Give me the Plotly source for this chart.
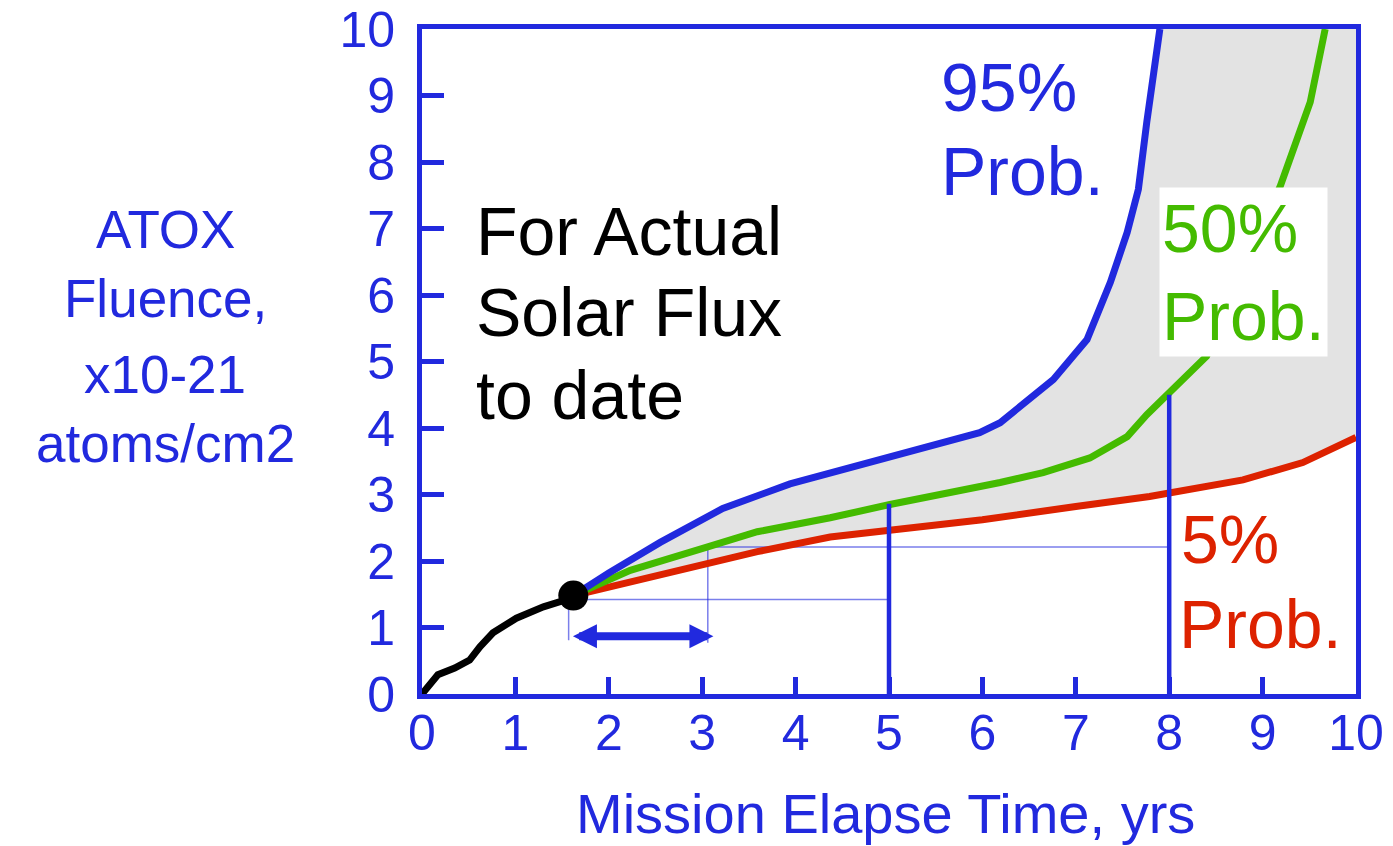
import plotly.graph_objects as go

# ATOX fluence vs mission time
actual_t = [0, 0.17, 0.35, 0.51, 0.62, 0.76, 1.01, 1.30, 1.55, 1.62]
actual_f = [0, 0.29, 0.39, 0.51, 0.71, 0.92, 1.14, 1.31, 1.42, 1.48]

p95_t = [1.62, 2.00, 2.55, 3.22, 3.94, 5.00, 5.97, 6.19, 6.51, 6.76, 7.12, 7.37, 7.55, 7.67, 7.76, 7.90]
p95_f = [1.48, 1.82, 2.28, 2.79, 3.16, 3.55, 3.93, 4.08, 4.43, 4.73, 5.33, 6.19, 6.94, 7.59, 8.60, 10.0]

p50_t = [1.62, 2.23, 3.05, 3.59, 4.37, 5.01, 6.19, 6.65, 7.15, 7.55, 7.76, 7.98, 8.40, 9.19, 9.51, 9.67]
p50_f = [1.48, 1.86, 2.21, 2.44, 2.65, 2.85, 3.18, 3.33, 3.55, 3.87, 4.20, 4.50, 5.08, 7.64, 8.90, 10.0]

p5_t = [1.62, 2.87, 3.59, 4.37, 5.33, 6.00, 7.00, 7.79, 8.79, 9.43, 10.0]
p5_f = [1.48, 1.91, 2.14, 2.36, 2.52, 2.62, 2.82, 2.97, 3.22, 3.48, 3.86]

now_t, now_f = 1.62, 1.48

# read-off guides
ref_years = [5, 8]
ref_tops = [2.86, 4.50]
guide_x = [1.57, 3.06]
guide_y = [1.42, 2.21]
guide_bottom = [0.81, 0.77]
arrow_y, arrow_from, arrow_to = 0.87, 1.60, 3.12

ticks = list(range(0, 11))
y_max = 10

BLUE = "#2129DE"
GREEN = "#44BB00"
RED = "#DD2200"
GRAY = "#E3E3E3"
THIN = "rgba(33,41,222,0.6)"
FONT = "Liberation Sans"

fig = go.Figure()

# shaded band: 5% curve, right edge, top edge, back down the 95% curve
band_x = p5_t + [p5_t[-1], p95_t[-1]] + p95_t[::-1]
band_y = p5_f + [y_max, y_max] + p95_f[::-1]
fig.add_trace(go.Scatter(x=band_x, y=band_y, fill="toself", fillcolor=GRAY,
                         line=dict(width=0), mode="lines", hoverinfo="skip"))

# thin guides
for gx, gy, ge, gb in zip(guide_x, guide_y, ref_years, guide_bottom):
    fig.add_trace(go.Scatter(x=[gx, gx, ge], y=[gb, gy, gy], mode="lines",
                             line=dict(color=THIN, width=1.5)))

fig.add_trace(go.Scatter(x=p5_t, y=p5_f, mode="lines", line=dict(color=RED, width=7)))
fig.add_trace(go.Scatter(x=p50_t, y=p50_f, mode="lines", line=dict(color=GREEN, width=7)))
fig.add_trace(go.Scatter(x=p95_t, y=p95_f, mode="lines", line=dict(color=BLUE, width=7)))

for rx, rt in zip(ref_years, ref_tops):
    fig.add_trace(go.Scatter(x=[rx, rx], y=[0, rt], mode="lines",
                             line=dict(color=BLUE, width=4.5)))

fig.add_trace(go.Scatter(x=actual_t, y=actual_f, mode="lines",
                         line=dict(color="black", width=7)))
fig.add_trace(go.Scatter(x=[now_t], y=[now_f], mode="markers",
                         marker=dict(color="black", size=30), cliponaxis=False))

fig.add_annotation(x=arrow_to, y=arrow_y, ax=arrow_from, ay=arrow_y,
                   xref="x", yref="y", axref="x", ayref="y", text="",
                   showarrow=True, arrowside="end+start", arrowhead=2,
                   arrowsize=0.6, arrowwidth=8, arrowcolor=BLUE,
                   standoff=0, startstandoff=0)


def label(x, y, text, color, size=68, xanchor="left", ref="x"):
    fig.add_annotation(x=x, y=y, text=text, showarrow=False, xref=ref,
                       yref="y" if ref == "x" else "paper",
                       xanchor=xanchor, yanchor="middle",
                       font=dict(family=FONT, size=size, color=color))


label(0.56, 6.96, "For Actual", "black")
label(0.56, 5.74, "Solar Flux", "black")
label(0.56, 4.50, "to date", "black")
label(5.53, 9.13, "95%", BLUE)
label(5.53, 7.86, "Prob.", BLUE)
label(8.11, 2.33, "5%", RED)
label(8.08, 1.05, "Prob.", RED)
fig.add_annotation(x=8.80, y=6.35, text="50%<br>Prob.", showarrow=False,
                   xanchor="center", yanchor="middle", align="left",
                   bgcolor="white", borderpad=2,
                   font=dict(family=FONT, size=68, color=GREEN))

for yy, txt in zip([0.698, 0.594, 0.481, 0.376],
                   ["ATOX", "Fluence,", "x10-21", "atoms/cm2"]):
    label(-0.275, yy, txt, BLUE, size=53, xanchor="center", ref="paper")
label(0.496, -0.180, "Mission Elapse Time, yrs", BLUE, size=56,
      xanchor="center", ref="paper")

axis = dict(showline=True, linewidth=5, linecolor=BLUE, mirror=True,
            ticks="inside", tickwidth=4.5, tickcolor=BLUE, showgrid=False,
            zeroline=False, tickvals=ticks, range=[0, y_max], automargin=False,
            tickfont=dict(family=FONT, size=50, color=BLUE))

fig.update_layout(
    width=1393, height=846,
    margin=dict(l=422, r=37, t=29, b=152),
    paper_bgcolor="white", plot_bgcolor="white",
    showlegend=False,
    xaxis=dict(axis, ticklen=17, ticklabelstandoff=-9),
    yaxis=dict(axis, ticklen=22, ticklabelstandoff=12),
)

js = "document.body.style.margin = '0';"
fig.write_html("out.html", post_script=[js], config={"displayModeBar": False})
